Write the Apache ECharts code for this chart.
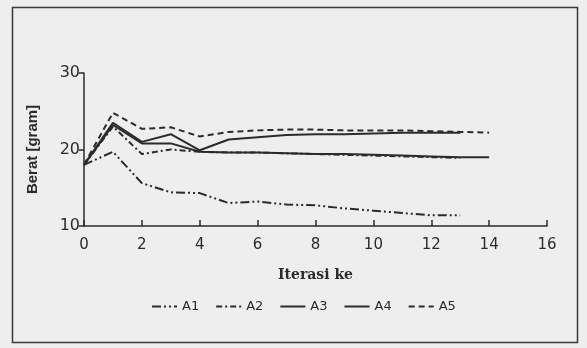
<!DOCTYPE html>
<html>
<head>
<meta charset="utf-8">
<script src="https://cdn.jsdelivr.net/npm/echarts@6/dist/echarts.min.js"></script>
<style>
html,body{margin:0;padding:0;background:#eeeeee;}
#c{width:587px;height:348px;}
</style>
</head>
<body>
<div id="c"></div>
<script>
var iter = [0,1,2,3,4,5,6,7,8,9,10,11,12,13,14];
var seriesNames = ['A1','A2','A3','A4','A5'];
var A1 = [18.0,19.7,15.6,14.4,14.3,13.0,13.2,12.8,12.7,12.3,12.0,11.7,11.4,11.4];
var A2 = [18.0,23.0,19.4,20.0,19.7,19.6,19.6,19.5,19.4,19.3,19.2,19.1,19.0,18.9];
var A3 = [18.0,23.5,21.0,22.0,19.9,21.3,21.6,21.9,22.0,22.0,22.1,22.2,22.2,22.2];
var A4 = [18.0,23.2,20.8,20.8,19.7,19.6,19.6,19.5,19.4,19.4,19.3,19.2,19.1,19.0,19.0];
var A5 = [18.0,24.8,22.7,22.9,21.7,22.3,22.5,22.6,22.6,22.5,22.5,22.5,22.4,22.3,22.2];
var xTicks = ['0','2','4','6','8','10','12','14','16'];
var yTicks = ['10','20','30'];

var dashes = {
  A1: [9,3,2,3,2,3],
  A2: [6,3,2,3],
  A3: 'solid',
  A4: 'solid',
  A5: [6,4]
};
var values = {A1:A1,A2:A2,A3:A3,A4:A4,A5:A5};
var ink = '#2b2b2b';

function pairs(ys){ return ys.map(function(v,i){ return [iter[i], v]; }); }

var chart = echarts.init(document.getElementById('c'));
chart.setOption({
  backgroundColor: '#eeeeee',
  animation: false,
  graphic: [{
    type: 'rect',
    shape: {x: 12.5, y: 7.5, width: 565, height: 335},
    style: {fill: 'none', stroke: '#3a3a3a', lineWidth: 1.5}
  }],
  grid: {left: 84, right: 40, top: 73, bottom: 122},
  legend: {
    left: 146, top: 295,
    itemWidth: 25, itemHeight: 14, itemGap: 16,
    itemStyle: {opacity: 0},
    textStyle: {fontFamily: 'DejaVu Sans', fontSize: 13, color: ink},
    data: seriesNames
  },
  xAxis: {
    type: 'value', min: 0, max: 16, interval: 2,
    name: 'Iterasi ke', nameLocation: 'middle', nameGap: 42,
    nameTextStyle: {fontFamily: 'DejaVu Serif', fontWeight: 'bold', fontSize: 14, color: ink},
    axisLine: {lineStyle: {color: ink, width: 1.5}},
    axisTick: {inside: true, length: 6, lineStyle: {color: ink, width: 1.5}},
    axisLabel: {fontFamily: 'DejaVu Sans', fontSize: 15, color: ink, margin: 12,
      formatter: function(v){ return xTicks[Math.round(v/2)]; }},
    splitLine: {show: false}
  },
  yAxis: {
    type: 'value', min: 10, max: 30, interval: 10,
    name: 'Berat [gram]', nameLocation: 'middle', nameGap: 44, nameRotate: 90,
    nameTextStyle: {fontFamily: 'Liberation Sans', fontWeight: 'bold', fontSize: 15, color: ink},
    axisLine: {show: true, lineStyle: {color: ink, width: 1.5}},
    axisTick: {show: true, inside: false, length: 5, lineStyle: {color: ink, width: 1.5}},
    axisLabel: {fontFamily: 'DejaVu Sans', fontSize: 16, color: ink, margin: 4,
      formatter: function(v){ return yTicks[Math.round((v-10)/10)]; }},
    splitLine: {show: false}
  },
  series: seriesNames.map(function(n){
    return {
      name: n, type: 'line', symbol: 'none',
      data: pairs(values[n]),
      lineStyle: {color: ink, width: 2, type: dashes[n]},
      itemStyle: {color: ink}
    };
  })
});
</script>
</body>
</html>
